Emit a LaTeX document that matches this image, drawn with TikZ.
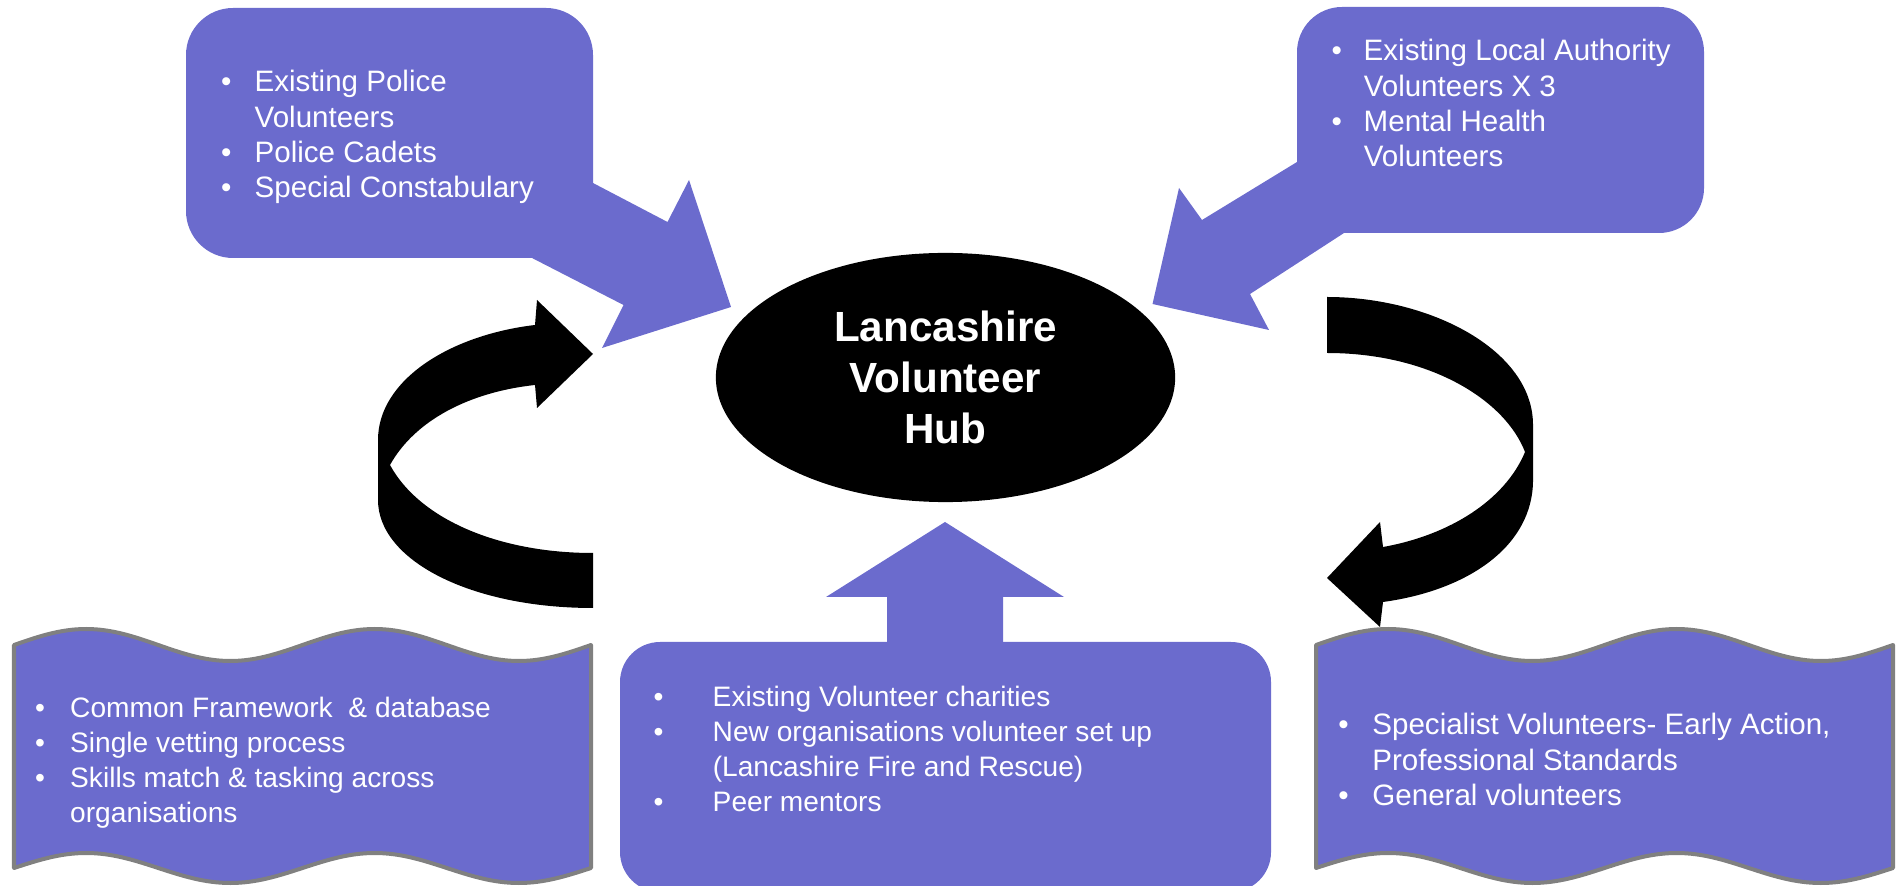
\documentclass[tikz,border=0pt]{standalone}
\usepackage{fontspec}
\setmainfont{Liberation Sans}
\usetikzlibrary{shapes.geometric}

\definecolor{boxblue}{RGB}{107,107,205}
\definecolor{edgegrey}{RGB}{128,128,128}

\begin{document}
\begin{tikzpicture}[x=0.01cm,y=-0.01cm,
        panel/.style={fill=boxblue},
        wave/.style={fill=boxblue,draw=edgegrey,line width=0.04cm,line join=round},
        loop/.style={fill=black},
        hub node/.style={ellipse,fill=black,text=white,inner sep=0pt,
          minimum width=4.59cm,minimum height=2.49cm,align=center,
          font=\bfseries\fontsize{12}{14.5}\selectfont},
        list/.style={anchor=base west,inner sep=0pt,text=white,
          font=\fontsize{8}{10}\selectfont},
        big list/.style={list,font=\fontsize{8.4}{10}\selectfont}]
        \clip (0,0) rectangle (1898,886);

        % callout boxes at the top
        \fill[panel,rounded corners=0.47cm] (186,8) rectangle (593,258);
        \fill[panel] (593,183) -- (667.5,222) -- (689,180) -- (731,307)
          -- (602,348) -- (623.5,305) -- (532,258) -- cycle;
        \fill[panel,rounded corners=0.45cm] (1297,7) rectangle (1704,233);
        \fill[panel] (1297,162) -- (1202,220) -- (1179,188) -- (1152.5,304)
          -- (1269,330) -- (1250,294) -- (1344,233) -- cycle;

        % bottom box with the up arrow
        \fill[panel,rounded corners=0.4cm] (620,642) rectangle (1271,892);
        \fill[panel] (887,650) -- (887,597) -- (826,597) -- (945,522)
          -- (1064,597) -- (1003,597) -- (1003,650) -- cycle;

        % wavy boxes
        \draw[wave] (14,645) sin ++(72.125,-16) cos ++(72.125,16) sin ++(72.125,16) cos ++(72.125,-16)
          sin ++(72.125,-16) cos ++(72.125,16) sin ++(72.125,16) cos ++(72.125,-16) -- ++(0,223)
          sin ++(-72.125,15) cos ++(-72.125,-15) sin ++(-72.125,-15) cos ++(-72.125,15)
          sin ++(-72.125,15) cos ++(-72.125,-15) sin ++(-72.125,-15) cos ++(-72.125,15) -- cycle;
        \draw[wave] (1316,645) sin ++(72.125,-16) cos ++(72.125,16) sin ++(72.125,16) cos ++(72.125,-16)
          sin ++(72.125,-16) cos ++(72.125,16) sin ++(72.125,16) cos ++(72.125,-16) -- ++(0,223)
          sin ++(-72.125,15) cos ++(-72.125,-15) sin ++(-72.125,-15) cos ++(-72.125,15)
          sin ++(-72.125,15) cos ++(-72.125,-15) sin ++(-72.125,-15) cos ++(-72.125,15) -- cycle;

        % curved arrows round the hub
        \fill[loop] (593,553) .. controls (500,553) and (420,520) .. (390,465)
          .. controls (415,420) and (470,392) .. (535,385) -- (537,408) -- (593,354)
          -- (537,300) -- (535,325) .. controls (450,335) and (378,380) .. (378,440)
          -- (378,500) .. controls (378,560) and (470,608) .. (593,608) -- cycle;
        \fill[loop] (1327,297) .. controls (1430,297) and (1533,350) .. (1533,425)
          -- (1533,480) .. controls (1533,545) and (1470,590) .. (1383,602)
          -- (1380,627) -- (1327,578) -- (1380,522) -- (1383,547)
          .. controls (1450,535) and (1505,500) .. (1525,452)
          .. controls (1505,400) and (1430,353) .. (1327,353) -- cycle;

        \node[hub node] (hub) at (945.5,377.5) {Lancashire\\Volunteer\\Hub};

        \node[big list] (police) at (220.5,92) {\begin{tabular}[t]{@{}p{0.335cm}@{}l@{}}
          \textbullet & Existing Police\\
                      & Volunteers\\
          \textbullet & Police Cadets\\
          \textbullet & Special Constabulary
        \end{tabular}};
        \node[big list] (authority) at (1331,61) {\begin{tabular}[t]{@{}p{0.32cm}@{}l@{}}
          \textbullet & Existing Local Authority\\
                      & Volunteers X 3\\
          \textbullet & Mental Health\\
                      & Volunteers
        \end{tabular}};
        \node[list] (framework) at (34.5,717) {\begin{tabular}[t]{@{}p{0.35cm}@{}l@{}}
          \textbullet & Common Framework \ \& database\\
          \textbullet & Single vetting process\\
          \textbullet & Skills match \& tasking across\\
                      & organisations
        \end{tabular}};
        \node[list] (charities) at (653,706) {\begin{tabular}[t]{@{}p{0.59cm}@{}l@{}}
          \textbullet & Existing Volunteer charities\\
          \textbullet & New organisations volunteer set up\\
                      & (Lancashire Fire and Rescue)\\
          \textbullet & Peer mentors
        \end{tabular}};
        \node[big list] (specialist) at (1337.7,735) {\begin{tabular}[t]{@{}p{0.34cm}@{}l@{}}
          \textbullet & Specialist Volunteers- Early Action,\\
                      & Professional Standards\\
          \textbullet & General volunteers
        \end{tabular}};
\end{tikzpicture}
\end{document}
